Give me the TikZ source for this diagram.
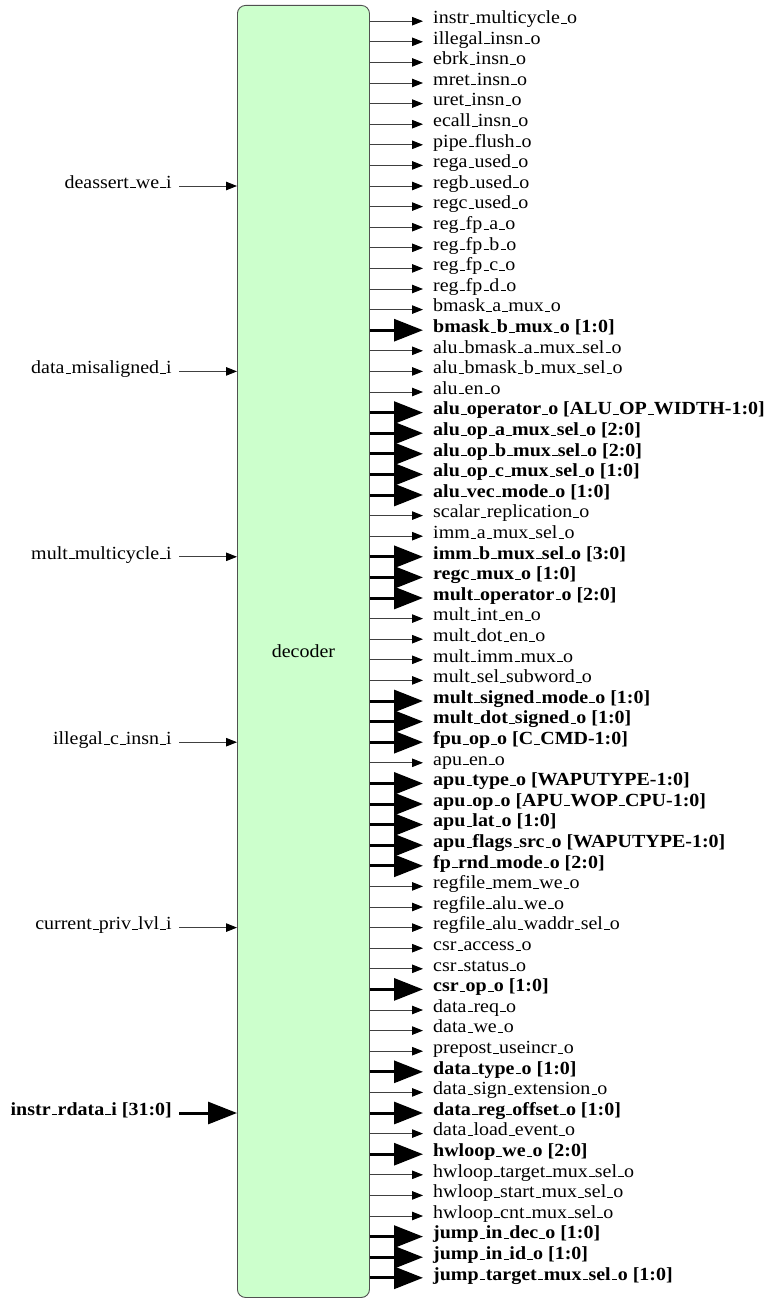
\documentclass[tikz,border=0pt]{standalone}
\usepackage{fontspec}
\setmainfont[FakeStretch=1.08]{Liberation Serif}
\usetikzlibrary{arrows.meta}
\definecolor{boxfill}{HTML}{CCFFCC}
\definecolor{boxline}{HTML}{505050}
\definecolor{wirecol}{HTML}{404040}
% short underscore sitting on the baseline
\renewcommand{\_}{\leavevmode\kern.06em\vbox{\hrule width .3em height .05em}\kern.02em}
\begin{document}
\begin{tikzpicture}[x=1pt,y=-1pt,
  arrw/.style={draw=wirecol, line width=0.9pt, -{Triangle[length=11pt,width=8.5pt,color=black]}},
  arrb/.style={draw=black, line width=3pt, -{Triangle[length=29pt,width=22pt]}},
  txtw/.style={font=\fontsize{18.5}{20}\selectfont, inner sep=0pt},
  txtb/.style={font=\fontsize{18.5}{20}\selectfont\bfseries, inner sep=0pt},
  module/.style={draw=boxline, line width=0.9pt, fill=boxfill, rounded corners=8pt,
    minimum width=132pt, minimum height=1292pt, inner sep=0pt,
    font=\fontsize{18.5}{20}\selectfont}]
\useasboundingbox (0,0) rectangle (772,1303);

% the decoder block
\node[module, anchor=north west] (dec) at (237,5) {decoder};

% output ports, top to bottom
\foreach \kind/\lab [count=\i] in {
  w/instr\_multicycle\_o, w/illegal\_insn\_o, w/ebrk\_insn\_o, w/mret\_insn\_o,
  w/uret\_insn\_o, w/ecall\_insn\_o, w/pipe\_flush\_o, w/rega\_used\_o,
  w/regb\_used\_o, w/regc\_used\_o, w/reg\_fp\_a\_o, w/reg\_fp\_b\_o,
  w/reg\_fp\_c\_o, w/reg\_fp\_d\_o, w/bmask\_a\_mux\_o, b/bmask\_b\_mux\_o [1:0],
  w/alu\_bmask\_a\_mux\_sel\_o, w/alu\_bmask\_b\_mux\_sel\_o, w/alu\_en\_o,
  b/alu\_operator\_o [ALU\_OP\_WIDTH-1:0], b/alu\_op\_a\_mux\_sel\_o [2:0],
  b/alu\_op\_b\_mux\_sel\_o [2:0], b/alu\_op\_c\_mux\_sel\_o [1:0],
  b/alu\_vec\_mode\_o [1:0], w/scalar\_replication\_o, w/imm\_a\_mux\_sel\_o,
  b/imm\_b\_mux\_sel\_o [3:0], b/regc\_mux\_o [1:0], b/mult\_operator\_o [2:0],
  w/mult\_int\_en\_o, w/mult\_dot\_en\_o, w/mult\_imm\_mux\_o, w/mult\_sel\_subword\_o,
  b/mult\_signed\_mode\_o [1:0], b/mult\_dot\_signed\_o [1:0], b/fpu\_op\_o [C\_CMD-1:0],
  w/apu\_en\_o, b/apu\_type\_o [WAPUTYPE-1:0], b/apu\_op\_o [APU\_WOP\_CPU-1:0],
  b/apu\_lat\_o [1:0], b/apu\_flags\_src\_o [WAPUTYPE-1:0], b/fp\_rnd\_mode\_o [2:0],
  w/regfile\_mem\_we\_o, w/regfile\_alu\_we\_o, w/regfile\_alu\_waddr\_sel\_o,
  w/csr\_access\_o, w/csr\_status\_o, b/csr\_op\_o [1:0], w/data\_req\_o, w/data\_we\_o,
  w/prepost\_useincr\_o, b/data\_type\_o [1:0], w/data\_sign\_extension\_o,
  b/data\_reg\_offset\_o [1:0], w/data\_load\_event\_o, b/hwloop\_we\_o [2:0],
  w/hwloop\_target\_mux\_sel\_o, w/hwloop\_start\_mux\_sel\_o, w/hwloop\_cnt\_mux\_sel\_o,
  b/jump\_in\_dec\_o [1:0], b/jump\_in\_id\_o [1:0], b/jump\_target\_mux\_sel\_o [1:0]} {
  \pgfmathsetmacro\yy{21.2+(\i-1)*20.6}
  \coordinate (p\i) at (dec.east |- 0,\yy);
  \node[txt\kind, anchor=mid west] (o\i) at (433,\yy) {\lab};
  \draw[arr\kind] (p\i) -- ([xshift=-10pt]o\i.mid west);
}

% input ports
\foreach \kind/\lab/\row [count=\k] in {
  w/deassert\_we\_i/8, w/data\_misaligned\_i/17, w/mult\_multicycle\_i/26,
  w/illegal\_c\_insn\_i/35, w/current\_priv\_lvl\_i/44, b/instr\_rdata\_i [31:0]/53} {
  \pgfmathsetmacro\yy{21.2+\row*20.6}
  \node[txt\kind, anchor=mid east] (i\k) at (172,\yy) {\lab};
  \coordinate (q\k) at (dec.west |- 0,\yy);
  \draw[arr\kind] ([xshift=7pt]i\k.mid east) -- (q\k);
}
\end{tikzpicture}
\end{document}
